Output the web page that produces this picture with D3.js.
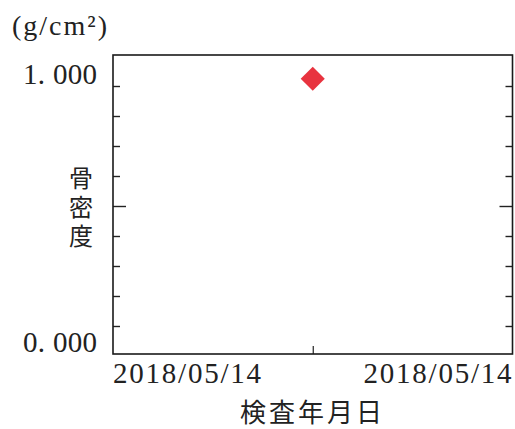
<!DOCTYPE html>
<html><head><meta charset="utf-8">
<script src="https://cdn.jsdelivr.net/npm/d3@7"></script>
<style>
html,body{margin:0;padding:0;background:#fff;}
svg{display:block;}
</style></head>
<body>
<script>
// ---- data ----
const dates = ["2018/05/14"];
const boneDensity = [1.03];
const yTickValues = [0, 0.125, 0.25, 0.375, 0.5, 0.625, 0.75, 0.875, 1];
const yTickLabels = ["0. 000", "1. 000"];
const yLabelValues = [0, 1];
const xTickLabels = ["2018/05/14", "2018/05/14"];
const unitLabel = "(g/cm²)";
const yTitle = "骨密度";
const xTitle = "検査年月日";

(function () {
const W = 515, H = 429;
const pL = 113, pR = 512.5, pT = 55, pB = 354;
const svg = d3.select("body").append("svg").attr("width", W).attr("height", H);

const x = d3.scalePoint().domain(dates).range([pL, pR]).padding(0.5);
const y = d3.scaleLinear().domain([-0.1167, 1.1292]).range([pB, pT]);

const serif = "'Liberation Serif','DejaVu Serif',serif";
const cjk = "'Noto Sans CJK JP','Noto Sans CJK SC',sans-serif";

// left axis ticks (inward)
const gL = svg.append("g").attr("transform", `translate(${pL},0)`)
  .call(d3.axisRight(y).tickValues(yTickValues).tickFormat("").tickSizeOuter(0).tickSize(7));
gL.select(".domain").remove();
gL.selectAll(".tick line").attr("stroke", "#222").attr("stroke-width", 1.4)
  .attr("x2", d => d === 0.5 ? 13 : 7);

const gR = svg.append("g").attr("transform", `translate(${pR},0)`)
  .call(d3.axisLeft(y).tickValues(yTickValues).tickFormat("").tickSizeOuter(0).tickSize(7));
gR.select(".domain").remove();
gR.selectAll(".tick line").attr("stroke", "#222").attr("stroke-width", 1.4)
  .attr("x2", d => d === 0.5 ? -13 : -7);

// bottom tick
const gX = svg.append("g").attr("transform", `translate(0,${pB})`)
  .call(d3.axisTop(x).tickFormat("").tickSize(8).tickSizeOuter(0));
gX.select(".domain").remove();
gX.selectAll(".tick line").attr("stroke", "#222").attr("stroke-width", 1.2);

// frame
svg.append("rect").attr("x", pL).attr("y", pT)
  .attr("width", pR - pL).attr("height", pB - pT)
  .attr("fill", "none").attr("stroke", "#1a1a1a").attr("stroke-width", 1.6);

// y labels
const yLabelBase = {0: 352, 1: 83.5};
svg.selectAll("text.ylab").data(yLabelValues).enter().append("text")
  .attr("class", "ylab")
  .attr("x", 97).attr("y", d => yLabelBase[d])
  .attr("text-anchor", "end")
  .attr("font-family", serif).attr("font-size", 29).attr("fill", "#222")
  .attr("textLength", 74).attr("lengthAdjust", "spacing")
  .text((d, i) => yTickLabels[i]);

// x labels
svg.append("text").attr("x", pL).attr("y", 383)
  .attr("font-family", serif).attr("font-size", 29).attr("fill", "#222")
  .attr("textLength", 148).attr("lengthAdjust", "spacing")
  .text(xTickLabels[0]);
svg.append("text").attr("x", pR - 149).attr("y", 383)
  .attr("font-family", serif).attr("font-size", 29).attr("fill", "#222")
  .attr("textLength", 148).attr("lengthAdjust", "spacing")
  .text(xTickLabels[1]);

// unit
svg.append("text").attr("x", 12).attr("y", 35)
  .attr("font-family", serif).attr("font-size", 28).attr("fill", "#222")
  .attr("textLength", 95).attr("lengthAdjust", "spacing")
  .text(unitLabel);

// y title (vertical)
svg.append("text")
  .attr("x", 81).attr("y", 166)
  .style("writing-mode", "vertical-rl")
  .attr("font-family", cjk).attr("font-size", 24).attr("fill", "#222")
  .attr("letter-spacing", 5)
  .text(yTitle);

// x title
svg.append("text").attr("x", 240).attr("y", 422)
  .attr("font-family", cjk).attr("font-size", 26).attr("fill", "#222")
  .attr("textLength", 142).attr("lengthAdjust", "spacing")
  .text(xTitle);

// points (diamonds)
svg.selectAll("path.pt").data(dates).enter().append("path")
  .attr("class", "pt")
  .attr("transform", (d, i) => `translate(${x(d)},${y(boneDensity[i])}) rotate(45)`)
  .attr("d", d3.symbol().type(d3.symbolSquare).size(290))
  .attr("fill", "#e8333f");
})();
</script>
</body></html>
